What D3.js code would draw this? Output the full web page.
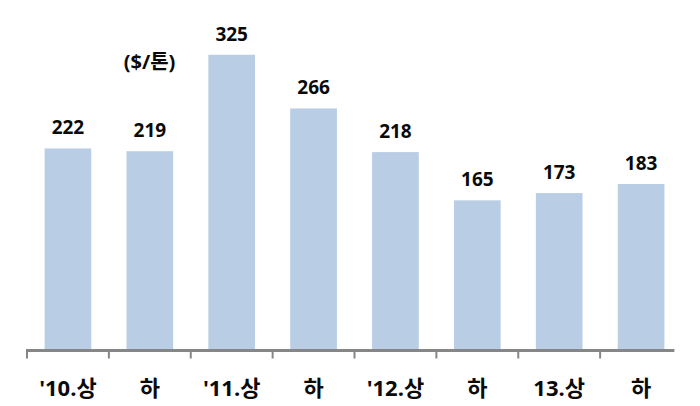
<!DOCTYPE html>
<html><head><meta charset="utf-8">
<script src="https://cdn.jsdelivr.net/npm/d3@7"></script>
<style>body{margin:0;background:#fff}svg{display:block}</style>
</head><body><svg id="c" width="700" height="406"></svg>
<script>
const categories = ["'10.상","하","'11.상","하","'12.상","하","13.상","하"];
const values = [222,219,325,266,218,165,173,183];
const unitLabel = "($/톤)";

const svg = d3.select("#c");
const font = "'Open Sans','Noto Sans CJK KR',sans-serif";
const x = d3.scaleBand().domain(d3.range(categories.length)).range([27, 682]).paddingInner(0.43).paddingOuter(0.215);
const y = d3.scaleLinear().domain([0, 350]).range([350.5, 32]);

svg.selectAll("rect.bar").data(values).enter().append("rect")
  .attr("x", (d,i)=>x(i)).attr("width", x.bandwidth())
  .attr("y", d=>y(d)).attr("height", d=>y(0)-y(d))
  .attr("fill", "#b9cde5");

svg.selectAll("text.val").data(values).enter().append("text")
  .attr("x", (d,i)=>x(i)+x.bandwidth()/2).attr("y", d=>y(d)-14)
  .attr("text-anchor","middle").attr("font-family",font).attr("font-weight","bold")
  .attr("font-size","19px").attr("fill","#0a0a0a").text(d=>d);

// axis
const step = x.step();
svg.append("line").attr("x1", 26).attr("x2", x(categories.length-1)+x.bandwidth()+10)
  .attr("y1", y(0)).attr("y2", y(0)).attr("stroke","#868686").attr("stroke-width",3);
svg.selectAll("line.tick").data(categories).enter().append("line")
  .attr("x1",(d,i)=>x(i)-(step-x.bandwidth())/2).attr("x2",(d,i)=>x(i)-(step-x.bandwidth())/2)
  .attr("y1", y(0)).attr("y2", y(0)+8).attr("stroke","#868686").attr("stroke-width",2);

svg.selectAll("text.cat").data(categories).enter().append("text")
  .attr("x",(d,i)=>x(i)+x.bandwidth()/2).attr("y", 396)
  .attr("text-anchor","middle").attr("font-family",font).attr("font-weight","bold")
  .attr("font-size","22px").attr("fill","#0a0a0a").text(d=>d);

svg.append("text").attr("x",149.5).attr("y",68.5).attr("text-anchor","middle")
  .attr("font-family",font).attr("font-weight","bold").attr("font-size","20px").attr("fill","#0a0a0a").text(unitLabel);
</script></body></html>
